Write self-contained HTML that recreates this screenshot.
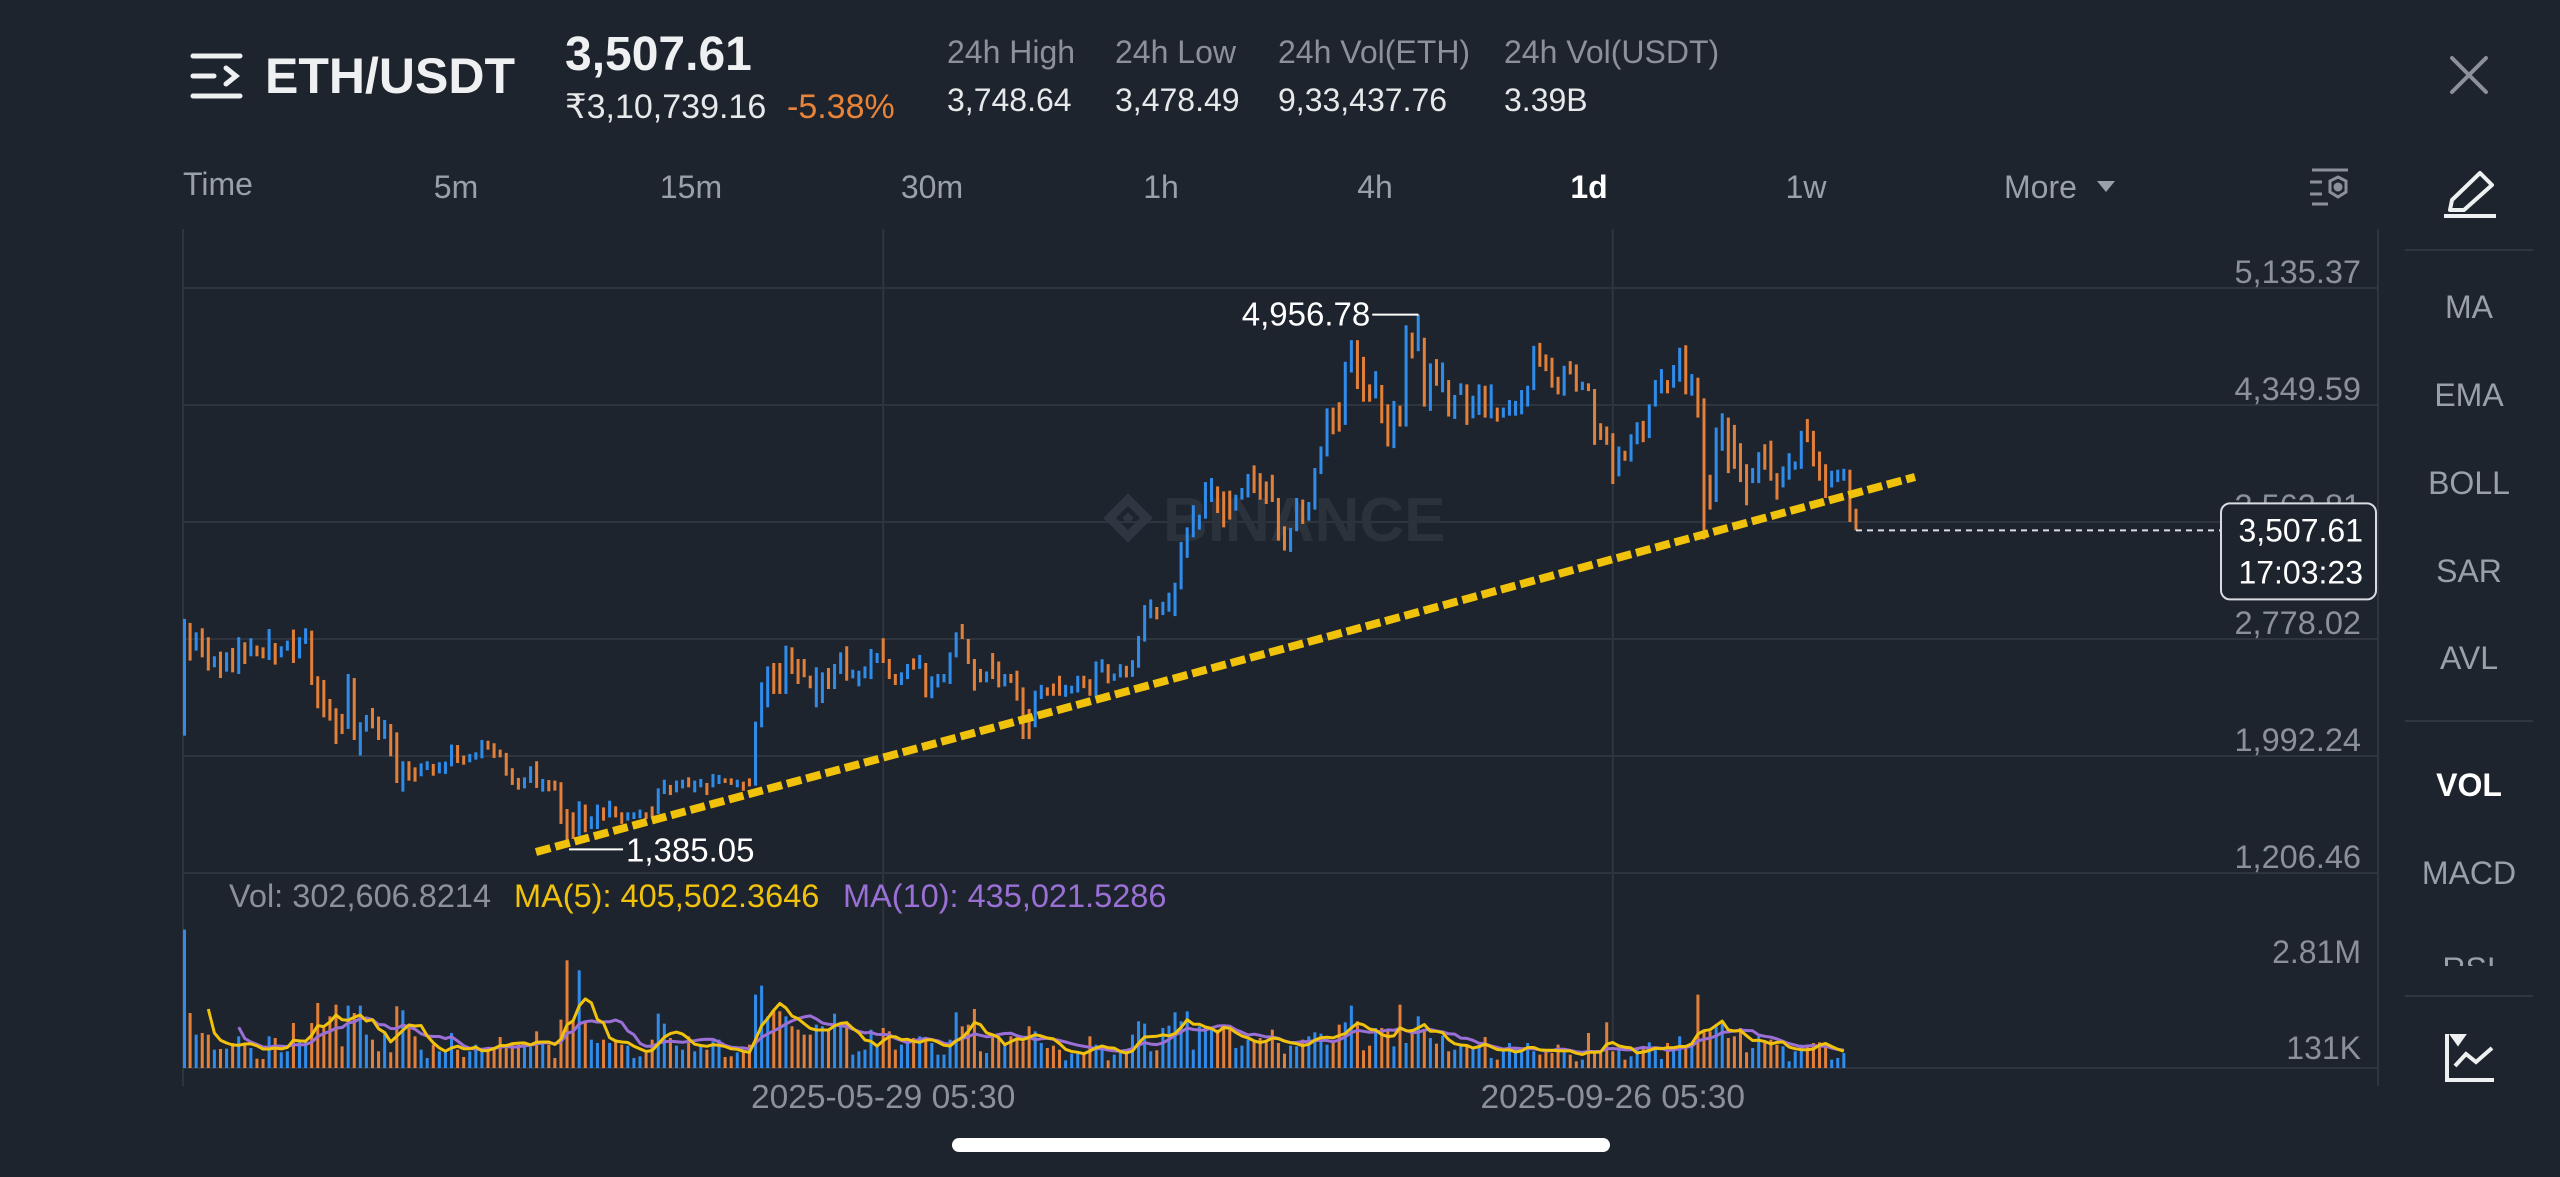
<!DOCTYPE html>
<html><head><meta charset="utf-8"><title>ETH/USDT chart</title>
<style>
html,body{margin:0;padding:0;background:#1e242d;}
body{width:2560px;height:1177px;overflow:hidden;font-family:"Liberation Sans",sans-serif;}
svg{position:absolute;left:0;top:0;}
</style></head>
<body>
<svg id="root" width="2560" height="1177" viewBox="0 0 2560 1177" xmlns="http://www.w3.org/2000/svg" font-family="Liberation Sans, sans-serif">
<rect x="0" y="0" width="2560" height="1177" fill="#1e242d"/>
<!-- header -->
<g stroke="#eef0f2" stroke-width="5" stroke-linecap="round" fill="none">
<line x1="193" y1="56" x2="240" y2="56"/><line x1="193" y1="76" x2="214" y2="76"/><polyline points="226,68 236,76 226,84"/><line x1="193" y1="96" x2="240" y2="96"/></g>
<text x="265" y="93" font-size="50" font-weight="bold" fill="#eef0f2">ETH/USDT</text>
<text x="565" y="70" font-size="48" font-weight="bold" fill="#eef0f2">3,507.61</text>
<text x="565" y="118" font-size="34" fill="#e6e8ea">₹3,10,739.16</text>
<text x="787" y="118" font-size="34" fill="#e8833a">-5.38%</text>
<text x="947" y="63" font-size="32" fill="#8b9099">24h High</text>
<text x="947" y="111" font-size="32" fill="#e6e8ea">3,748.64</text>
<text x="1115" y="63" font-size="32" fill="#8b9099">24h Low</text>
<text x="1115" y="111" font-size="32" fill="#e6e8ea">3,478.49</text>
<text x="1278" y="63" font-size="32" fill="#8b9099">24h Vol(ETH)</text>
<text x="1278" y="111" font-size="32" fill="#e6e8ea">9,33,437.76</text>
<text x="1504" y="63" font-size="32" fill="#8b9099">24h Vol(USDT)</text>
<text x="1504" y="111" font-size="32" fill="#e6e8ea">3.39B</text>
<g stroke="#8b9099" stroke-width="4" stroke-linecap="round"><line x1="2452" y1="58" x2="2486" y2="92"/><line x1="2486" y1="58" x2="2452" y2="92"/></g>
<!-- timeframe row -->
<g font-size="32" fill="#9aa0a8">
<text x="183" y="195">Time</text>
<text x="456" y="198" text-anchor="middle">5m</text>
<text x="691" y="198" text-anchor="middle">15m</text>
<text x="932" y="198" text-anchor="middle">30m</text>
<text x="1161" y="198" text-anchor="middle">1h</text>
<text x="1375" y="198" text-anchor="middle">4h</text>
<text x="1589" y="198" text-anchor="middle" fill="#ffffff" font-weight="bold">1d</text>
<text x="1806" y="198" text-anchor="middle">1w</text>
<text x="2004" y="198">More</text>
<path d="M2097 181 L2115 181 L2106 192 Z" fill="#9aa0a8"/>
</g>
<g stroke="#8b9099" stroke-width="3" fill="none">
<line x1="2312" y1="170" x2="2348" y2="170"/><line x1="2310" y1="182" x2="2322" y2="182"/><line x1="2310" y1="194" x2="2322" y2="194"/><line x1="2312" y1="204" x2="2328" y2="204"/>
<polygon points="2338,177 2346,181 2346,192 2338,197 2330,192 2330,181"/><circle cx="2338" cy="187" r="3" fill="#8b9099"/></g>
<g stroke="#eef0f2" stroke-width="4" fill="none" stroke-linejoin="round">
<path d="M2452 200 L2480 173 L2492 185 L2464 210 L2450 210 Z"/><line x1="2444" y1="216" x2="2496" y2="216"/></g>
<!-- right panel -->
<g stroke="#30363f" stroke-width="2">
<line x1="2405" y1="250" x2="2533" y2="250"/>
<line x1="2405" y1="721" x2="2533" y2="721"/>
<line x1="2405" y1="996" x2="2533" y2="996"/>
</g>
<svg x="2400" y="240" width="140" height="726" overflow="hidden">
<g font-size="32" fill="#9aa0a8" text-anchor="middle">
<text x="69" y="78">MA</text>
<text x="69" y="166">EMA</text>
<text x="69" y="254">BOLL</text>
<text x="69" y="342">SAR</text>
<text x="69" y="429">AVL</text>
<text x="69" y="556" fill="#ffffff" font-weight="bold">VOL</text>
<text x="69" y="644">MACD</text>
<text x="69" y="740">RSI</text>
</g></svg>
<g stroke="#eef0f2" stroke-width="4" fill="none">
<polyline points="2447,1034 2447,1080 2494,1080"/><polyline points="2455,1066 2466,1054 2476,1062 2492,1048"/><path d="M2453 1036 L2463 1036 L2458 1043 Z" fill="#eef0f2"/></g>
<!-- home indicator -->
<rect x="952" y="1138" width="658" height="14" rx="7" fill="#ffffff"/>
<g id="chart"></g>
</svg>
<script>
// ---------- data ----------
const opens = [2129,2886,2700,2850,2790,2588,2693,2559,2718,2543,2756,2662,2734,2722,2637,2751,2655,2700,2841,2648,2745,2834,2528,2503,2375,2313,2275,2174,2516,1995,2156,2315,2257,2107,2207,2151,1753,1957,1916,1856,1898,1939,1876,1872,1923,2066,1995,1950,1968,1977,2095,2078,2035,2013,1910,1845,1775,1811,1957,1753,1831,1827,1816,1636,1614,1457,1666,1502,1502,
1647,1580,1654,1614,1558,1569,1574,1614,1654,1603,1737,1798,1748,1775,1849,1748,1782,1811,1782,1804,1842,1842,1782,1820,1842,1793,2185,2319,2617,2617,2409,2722,2644,2644,2532,2319,2348,2583,2442,2543,2729,2514,2460,2514,2509,2617,2783,2644,2543,2469,2509,2648,2577,2617,2380,2453,2487,2476,2655,2879,2778,2644,2577,2487,2684,2627,2460,2543,2565,2453,2308,2185,2375,2453,
2479,2531,2390,2412,2419,2531,2508,2397,2553,2609,2497,2520,2598,2524,2585,2761,2917,2993,2939,2961,2932,3111,3323,3461,3513,3586,3698,3803,3769,3774,3640,3714,3729,3944,3892,3836,3881,3725,3535,3363,3502,3714,3573,3647,3886,4004,4332,4368,4216,4568,4785,4673,4488,4394,4484,4354,4060,4345,4205,4836,4711,4801,4310,4658,4435,4517,4256,4417,
4488,4260,4283,4479,4260,4332,4265,4278,4278,4287,4339,4450,4767,4689,4667,4539,4412,4644,4622,4450,4495,4457,4227,4205,4160,3870,4042,3970,4086,4243,4127,4339,4428,4517,4466,4506,4751,4412,4533,4394,3881,3698,4042,4265,4216,4093,3952,3825,3825,4086,4110,3892,3796,3848,3915,3921,4256,4176,4037,3952,3796,3832,3841,3915,3653];
const closes = [2913,2633,2823,2655,2566,2662,2516,2689,2554,2790,2610,2783,2662,2648,2845,2606,2729,2767,2617,2790,2850,2469,2313,2252,2230,2073,2140,2543,2100,2219,2268,2178,2100,2234,1990,1811,1957,1827,1820,1943,1957,1860,1950,1955,2069,1945,1934,2006,2017,2100,2035,1979,1983,1860,1798,1766,1849,1923,1778,1838,1755,1760,1536,1390,1435,1688,1480,1587,1666,
1558,1692,1580,1536,1614,1614,1632,1569,1580,1775,1833,1730,1827,1833,1782,1827,1838,1730,1871,1865,1811,1798,1833,1759,1788,2223,2487,2594,2409,2409,2733,2543,2476,2521,2447,2588,2554,2442,2610,2688,2498,2572,2565,2594,2711,2684,2617,2509,2469,2554,2610,2572,2671,2386,2527,2543,2543,2688,2823,2778,2610,2431,2487,2560,2509,2453,2543,2483,2364,2106,2106,2431,2470,2397,
2397,2397,2470,2464,2531,2448,2397,2627,2642,2480,2546,2609,2520,2636,2799,3006,3044,2910,3028,3089,3156,3430,3528,3676,3613,3832,3859,3624,3528,3580,3747,3792,3886,3758,3714,3685,3698,3439,3372,3524,3725,3551,3698,3926,4071,4327,4153,4171,4640,4785,4457,4372,4372,4577,4227,4071,4377,4205,4885,4662,4950,4339,4629,4479,4635,4272,4417,4495,
4216,4412,4488,4265,4488,4238,4332,4383,4377,4450,4479,4747,4606,4577,4466,4421,4613,4555,4439,4506,4443,4082,4115,4082,3819,4071,3975,4153,4234,4100,4354,4517,4591,4428,4618,4734,4421,4557,4265,3446,3647,4198,4294,3892,3921,3832,3676,3926,4033,3915,3841,3714,3937,4026,3970,4176,4100,3937,3841,3725,3908,3915,3921,3564,3507.61];
// volume in thousands
const volumes = [2818,1120,679,713,679,373,387,394,509,645,509,407,190,183,645,611,319,340,917,577,577,917,1324,815,1052,1290,441,1270,1120,1270,679,577,340,747,319,1256,1175,883,645,373,204,475,340,319,713,373,224,340,475,340,407,428,631,475,523,475,455,428,747,543,475,204,985,2193,951,1989,917,577,509,577,509,577,475,455,204,238,306,577,1107,903,611,455,373,645,340,475,373,543,577,224,238,319,340,475,1494,1677,1052,1188,1154,1052,849,781,679,679,883,849,781,1107,917,951,272,340,373,781,475,815,747,373,475,509,611,645,611,509,272,272,577,1134,849,883,1202,340,306,645,611,475,645,611,
543,849,747,509,407,455,373,156,292,319,319,645,475,475,156,272,306,319,679,951,903,340,360,815,862,1134,951,1154,373,849,849,794,781,849,781,407,455,577,543,611,543,781,509,292,455,441,577,645,727,699,475,523,883,930,1270,951,360,455,815,815,747,441,1290,509,794,1052,781,611,496,659,340,373,475,441,407,475,631,204,170,340,509,407,319,509,340,272,373,306,475,319,272,136,170,713,306,306,930,340,373,170,238,407,441,523,407,183,509,441,645,407,475,1494,781,747,849,903,611,645,815,319,407,645,509,577,475,441,136,340,475,475,509,523,509,170,204,303];
const priceTicks = [5135.37,4349.59,3563.81,2778.02,1992.24,1206.46];
const volTickLabels = ["2.81M","131K"];
const dateTickLabels = ["2025-05-29 05:30","2025-09-26 05:30"];
const dateTickIndex = [115,235];
const highLabel = 4956.78, lowLabel = 1385.05, lastPrice = 3507.61;

// ---------- scales ----------
const PMIN = 1206.46, PMAX = 5135.37, Y0 = 873, Y1 = 288;
function py(p){ return Y0 - (p - PMIN) / (PMAX - PMIN) * (Y0 - Y1); }
function px(i){ return 184 + i * 6.08; }
const VB = 1068, VH = 138, VMAX = 2810;
function vy(v){ return VB - v / VMAX * VH; }

const NS = "http://www.w3.org/2000/svg";
const chart = document.getElementById("chart");
function mk(tag, attrs, parent){
  const e = document.createElementNS(NS, tag);
  for (const k in attrs) e.setAttribute(k, attrs[k]);
  (parent || chart).appendChild(e);
  return e;
}
const UP = "#2f8ceb", DOWN = "#e2803a", GRID = "#2e353f", AXIS = "#8b9099";

// frame & grid
let e;
e = mk("line",{x1:183,y1:229,x2:183,y2:1086,stroke:GRID,"stroke-width":2});


e = mk("line",{x1:2378,y1:229,x2:2378,y2:1086,stroke:GRID,"stroke-width":2});


priceTicks.forEach((p)=>{
  const y = py(p);
  const g = mk("line",{x1:183,y1:y,x2:2378,y2:y,stroke:GRID,"stroke-width":2});
  
  
  const t = mk("text",{x:2361,y:y-5,"text-anchor":"end","font-size":32.5,fill:AXIS});
  t.textContent = p.toLocaleString("en-US",{minimumFractionDigits:2,maximumFractionDigits:2});
  
  
});
e = mk("line",{x1:183,y1:VB,x2:2378,y2:VB,stroke:GRID,"stroke-width":2});


dateTickIndex.forEach((di,k)=>{
  const x = px(di);
  const g = mk("line",{x1:x,y1:229,x2:x,y2:1068,stroke:GRID,"stroke-width":2});
  
  
  const t = mk("text",{x:x,y:1108,"text-anchor":"middle","font-size":33.5,fill:AXIS});
  t.textContent = dateTickLabels[k];
  
  
});
// volume axis labels
const vt1 = mk("text",{x:2361,y:963,"text-anchor":"end","font-size":32,fill:AXIS});
vt1.textContent = volTickLabels[0];


const vt2 = mk("text",{x:2361,y:1059,"text-anchor":"end","font-size":32,fill:AXIS});
vt2.textContent = volTickLabels[1];



// watermark
const wm = mk("g",{opacity:1});


mk("rect",{x:1115,y:505,width:26,height:26,fill:"none",stroke:"#2f3641","stroke-width":9,transform:"rotate(45 1128 518)"},wm);
mk("rect",{x:1124,y:514,width:8,height:8,fill:"#2f3641",transform:"rotate(45 1128 518)"},wm);
const wt = mk("text",{x:1163,y:541,"font-size":62,"font-weight":"bold",fill:"#2c323c"},wm);
wt.textContent = "BINANCE";

// candles
const cg = mk("g",{});


for (let i=0;i<closes.length;i++){
  const o = opens[i], c = closes[i];
  const up = c >= o;
  const top = py(Math.max(o,c)), bot = py(Math.min(o,c));
  const x = Math.max(183, px(i)-1.5);
  const r = mk("rect",{x:x,y:top,width:3,height:Math.max(2,bot-top),fill:up?UP:DOWN},cg);
  
  
}
// volume bars
const vg = mk("g",{});


const nV = Math.min(volumes.length, closes.length);
for (let i=0;i<nV;i++){
  const up = closes[i] >= opens[i];
  const y = vy(volumes[i]);
  const r = mk("rect",{x:Math.max(183,px(i)-1.5),y:y,width:3,height:VB-y,fill:up?UP:DOWN},vg);
  
  
}
// MA lines
function maLine(n,color){
  let pts=[];
  for (let i=n-1;i<nV;i++){
    let s=0; for(let k=i-n+1;k<=i;k++) s+=volumes[k];
    pts.push(px(i).toFixed(1)+","+vy(s/n).toFixed(1));
  }
  return mk("polyline",{points:pts.join(" "),fill:"none",stroke:color,"stroke-width":3,"stroke-linejoin":"round"});
}
const ma10 = maLine(10,"#9a70d6");


const ma5 = maLine(5,"#f0c20c");



// volume legend
const lg1 = mk("text",{x:229,y:907,"font-size":32.5,fill:AXIS});
lg1.textContent = "Vol: 302,606.8214";


const lg2 = mk("text",{x:514,y:907,"font-size":32.5,fill:"#f0c20c"});
lg2.textContent = "MA(5): 405,502.3646";


const lg3 = mk("text",{x:843,y:907,"font-size":32.5,fill:"#9a70d6"});
lg3.textContent = "MA(10): 435,021.5286";



// high/low markers
let hi=-1, hiI=0, lo=1e9, loI=0;
for (let i=0;i<closes.length;i++){
  const m=Math.max(opens[i],closes[i]), n=Math.min(opens[i],closes[i]);
  if(m>hi){hi=m;hiI=i;} if(n<lo){lo=n;loI=i;}
}
const hy = py(highLabel), hx = px(hiI);
mk("line",{x1:hx-46,y1:hy,x2:hx,y2:hy,stroke:"#ffffff","stroke-width":2});
mk("line",{x1:hx,y1:hy,x2:hx,y2:py(hi),stroke:"#ffffff","stroke-width":2});
const ht = mk("text",{x:hx-48,y:hy+11,"text-anchor":"end","font-size":33,fill:"#ffffff"});
ht.textContent = highLabel.toLocaleString("en-US",{minimumFractionDigits:2});


const ly = py(lowLabel)+3, lx = px(loI);
mk("line",{x1:lx+2,y1:ly,x2:lx+56,y2:ly,stroke:"#ffffff","stroke-width":2});
const lt = mk("text",{x:lx+59,y:ly+12,"font-size":33,fill:"#ffffff"});
lt.textContent = lowLabel.toLocaleString("en-US",{minimumFractionDigits:2});



// trendline (drawn)
const tl = mk("line",{x1:536,y1:852,x2:1915,y2:477,stroke:"#f0c20c","stroke-width":8,"stroke-dasharray":"15 5"});



// last price line & box
const lpY = py(lastPrice);
const lastX = px(closes.length-1);
const dl = mk("line",{x1:lastX,y1:lpY,x2:2222,y2:lpY,stroke:"#d8dbe0","stroke-width":2,"stroke-dasharray":"6 5"});


const bx = mk("rect",{x:2221,y:lpY-27,width:155,height:96,rx:9,fill:"#1e242d",stroke:"#d8dbe0","stroke-width":2});


const bt1 = mk("text",{x:2363,y:lpY+11,"text-anchor":"end","font-size":32,fill:"#ffffff"});
bt1.textContent = lastPrice.toLocaleString("en-US",{minimumFractionDigits:2});


const bt2 = mk("text",{x:2363,y:lpY+53,"text-anchor":"end","font-size":32,fill:"#ffffff"});
bt2.textContent = "17:03:23";


</script>
</body></html>
